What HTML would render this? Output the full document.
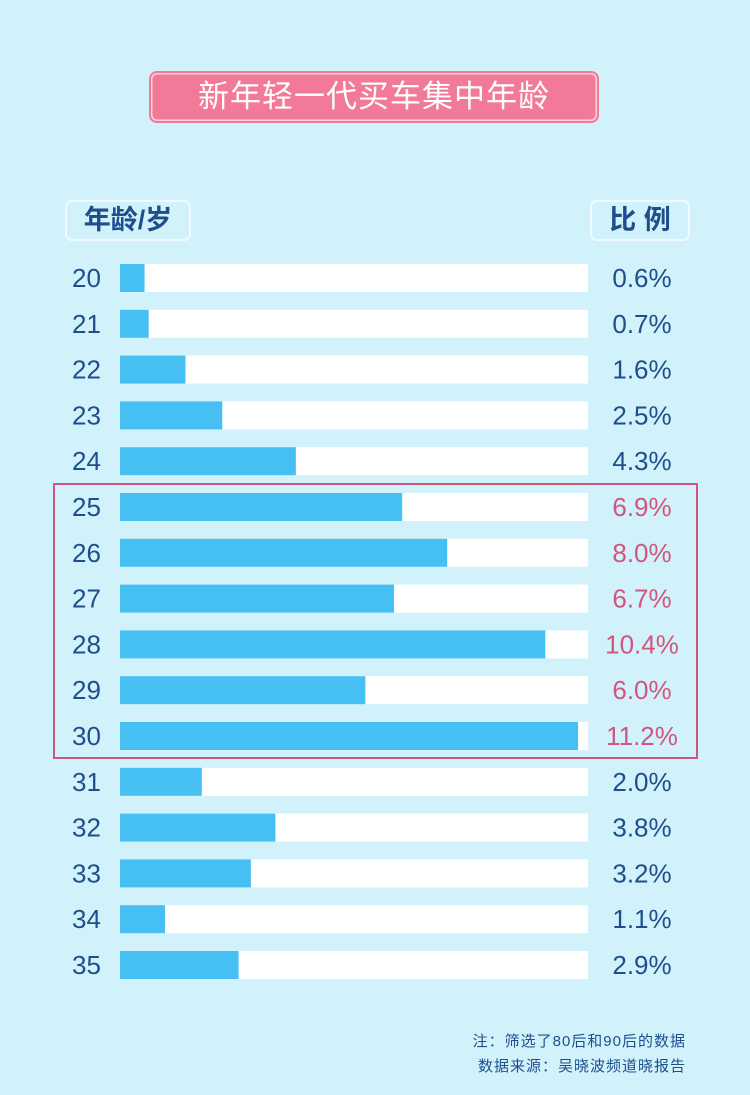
<!DOCTYPE html>
<html><head><meta charset="utf-8"><style>
body{margin:0;width:750px;height:1095px;background:#d1f2fb;font-family:"Liberation Sans","Noto Sans CJK SC",sans-serif;position:relative;overflow:hidden}
.abs{position:absolute}
#title{left:149px;top:71px;width:450px;height:52px;background:#f27a98;border-radius:8px;box-shadow:inset 0 0 0 2px #f27a98,inset 0 0 0 3.5px #fbd3dd;color:#fff;font-size:31px;line-height:52px;text-align:center;letter-spacing:1px}
.hdr{border:2px solid #eefbff;border-radius:7px;color:#1f4e8c;font-size:27px;font-weight:bold;line-height:36px;text-align:center}
.foot{right:64px;color:#1f4e8c;font-size:15px;letter-spacing:1px}
</style></head><body>
<div id="title" class="abs">新年轻一代买车集中年龄</div>
<div class="abs hdr" style="left:65px;top:200px;width:122px;height:37px">年龄/岁</div>
<div class="abs hdr" style="left:590px;top:200px;width:96px;height:37px">比 例</div>
<div class="abs" style="left:53px;top:483px;width:641px;height:272px;border:2px solid #d2557e"></div>
<svg id="chart" class="abs" style="left:0;top:0" width="750" height="1000"></svg>
<div class="abs foot" style="top:1030px">注：筛选了80后和90后的数据</div>
<div class="abs foot" style="top:1055px">数据来源：吴晓波频道晓报告</div>
<script>
const ages=["20","21","22","23","24","25","26","27","28","29","30","31","32","33","34","35"];
const values=[0.6,0.7,1.6,2.5,4.3,6.9,8.0,6.7,10.4,6.0,11.2,2.0,3.8,3.2,1.1,2.9];
const highlighted=[false,false,false,false,false,true,true,true,true,true,true,false,false,false,false,false];
const NS="http://www.w3.org/2000/svg";
const svg=document.getElementById('chart');
const x0=120,trackW=468,pxPer=40.9;
function xs(v){return v*pxPer;}
function ys(i){return 278+i*45.8;}
function mk(t,a){const e=document.createElementNS(NS,t);for(const k in a)e.setAttribute(k,a[k]);svg.appendChild(e);return e;}
ages.forEach((a,i)=>{
 const y=ys(i);
 const tr=mk('rect',{x:x0,y:y-14,width:trackW,height:28,fill:'#fff'});
 
 
 const b=mk('rect',{x:x0,y:y-14,width:xs(values[i]),height:28,fill:'#46bff3'});
 
 
 const l=mk('text',{x:72,y:y+9,'font-size':26,fill:'#1f4e8c','font-family':'Liberation Sans, sans-serif'});
 l.textContent=a;
 
 
 const v=mk('text',{x:642,y:y+9,'font-size':26,'text-anchor':'middle',fill:highlighted[i]?'#d2557e':'#1f4e8c','font-family':'Liberation Sans, sans-serif'});
 v.textContent=values[i].toFixed(1)+'%';
 
 
});
</script>
</body></html>
